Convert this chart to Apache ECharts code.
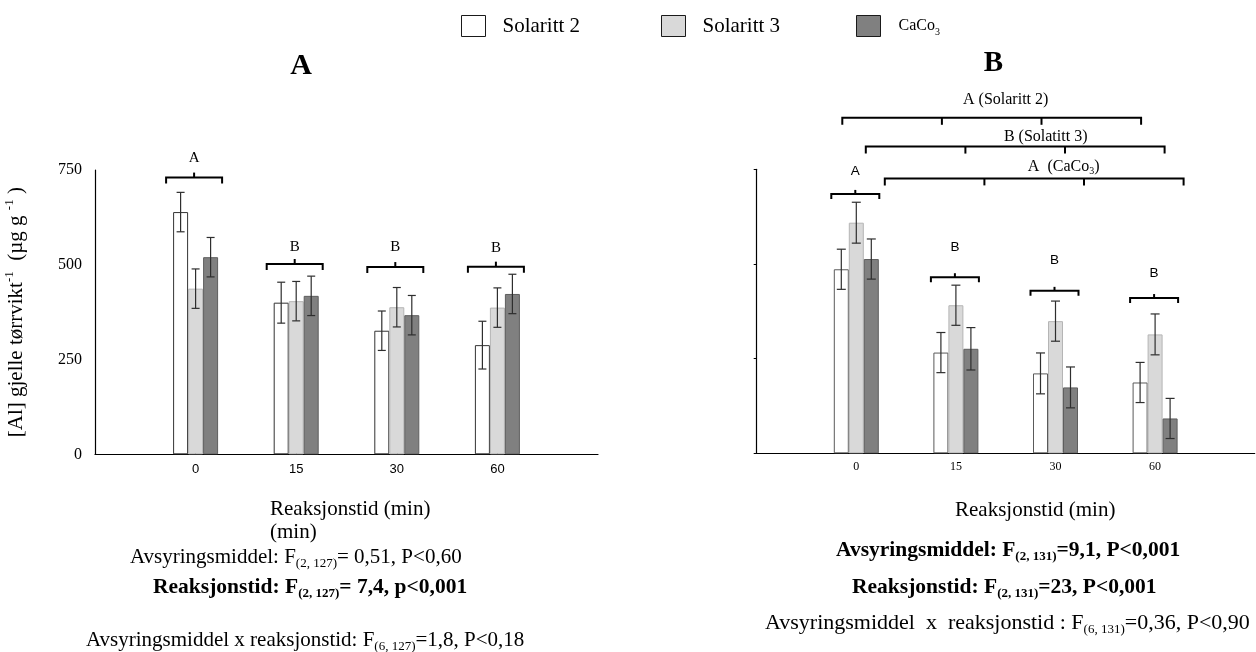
<!DOCTYPE html>
<html>
<head>
<meta charset="utf-8">
<script src="https://cdn.jsdelivr.net/npm/echarts@6/dist/echarts.min.js"></script>
<style>
  html, body { margin: 0; padding: 0; background: #ffffff; }
  #chart { width: 1256px; height: 652px; }
</style>
</head>
<body>
<div id="chart"></div>
<script>
// Reaction times (min) and treatments
const categories = ['0', '15', '30', '60'];
const seriesNames = ['Solaritt 2', 'Solaritt 3', 'CaCo3'];
const yTicks = [0, 250, 500, 750];

// Panel A: mean gill [Al] (µg/g dry weight) and error half-widths
const a_solaritt2 = [639, 400, 326, 288];
const a_solaritt3 = [437, 404, 388, 387];
const a_caco3     = [520, 418, 367, 423];
const a_err_solaritt2 = [52, 54, 52, 63];
const a_err_solaritt3 = [52, 52, 52, 52];
const a_err_caco3     = [52, 52, 52, 52];

// Panel B
const b_solaritt2 = [486, 266, 211, 187];
const b_solaritt3 = [609, 391, 349, 314];
const b_caco3     = [513, 276, 174, 92];
const b_err_solaritt2 = [53, 53, 54, 53];
const b_err_solaritt3 = [54, 53, 53, 54];
const b_err_caco3     = [53, 56, 54, 53];

// Homogeneous groups per reaction time (bracket level and letter level, in axis units)
const a_groupLetters  = ['A', 'B', 'B', 'B'];
const a_bracketLevels = [730, 502, 494, 495];
const a_letterLevels  = [782, 548, 546, 543];
const b_groupLetters  = ['A', 'B', 'B', 'B'];
const b_bracketLevels = [685, 465, 429, 410];
const b_letterLevels  = [745, 544, 509, 476];

// Homogeneous groups across reaction times, per treatment (panel B)
const b_spanLetters = ['A', 'B', 'A'];
const b_spanTreatments = ['Solaritt 2', 'Solatitt 3', 'CaCo3'];
const b_spanLevels = [886, 810, 726];

// ---------------------------------------------------------------
const SERIF = '"Liberation Serif", "Times New Roman", serif';
const SANS = '"Liberation Sans", Arial, sans-serif';
const axisCats = [''].concat(categories, [' ']);
const fills = ['#ffffff', '#d9d9d9', '#808080'];
const borders = [['#333333', '#b5b5b5', '#5e5e5e'], ['#5a5a5a', '#b5b5b5', '#5e5e5e']];
const BAR_W = 15;

const panels = [
  { values: [a_solaritt2, a_solaritt3, a_caco3], errors: [a_err_solaritt2, a_err_solaritt3, a_err_caco3], cap: 4 },
  { values: [b_solaritt2, b_solaritt3, b_caco3], errors: [b_err_solaritt2, b_err_solaritt3, b_err_caco3], cap: 4.5 }
];

function errorBarRenderer(offset, capHalf) {
  return function (params, api) {
    const c = api.value(0), v = api.value(1), e = api.value(2);
    const hi = api.coord([c, v + e]);
    const lo = api.coord([c, v - e]);
    const x = hi[0] + offset;
    const st = { stroke: '#2e2e2e', lineWidth: 1.2 };
    return {
      type: 'group',
      children: [
        { type: 'line', shape: { x1: x, y1: hi[1], x2: x, y2: lo[1] }, style: st },
        { type: 'line', shape: { x1: x - capHalf, y1: hi[1], x2: x + capHalf, y2: hi[1] }, style: st },
        { type: 'line', shape: { x1: x - capHalf, y1: lo[1], x2: x + capHalf, y2: lo[1] }, style: st }
      ]
    };
  };
}

function groupBracketRenderer(letters, o) {
  return function (params, api) {
    const c = api.value(0);
    const p = api.coord([c, api.value(1)]);
    const t = api.coord([c, api.value(2)]);
    const x = p[0] + o.dx, y = p[1];
    const st = { stroke: '#000', lineWidth: o.lw, fill: 'none' };
    return {
      type: 'group',
      children: [
        { type: 'polyline', shape: { points: [[x - o.half, y + o.drop], [x - o.half, y], [x + o.half, y], [x + o.half, y + o.drop]] }, style: st },
        { type: 'line', shape: { x1: x, y1: y, x2: x, y2: y - o.rise }, style: st },
        { type: 'text', style: { text: letters[params.dataIndex], x: x, y: t[1], align: 'center', verticalAlign: 'middle',
            fill: '#000', fontFamily: o.font, fontSize: o.size } }
      ]
    };
  };
}

// Span brackets: x shift of the tick positions and label placement
const spanShift = [-14, 9.5, 28.5];
const spanLabelDx = [0, 40, 58];
const spanLabelLift = [18, 10, 12];

function spanRenderer(params, api) {
  const i = params.dataIndex;
  const lv = api.value(1);
  const xs = [1, 2, 3, 4].map(c => api.coord([c, lv])[0] + spanShift[i]);
  const y = api.coord([1, lv])[1];
  const st = { stroke: '#000', lineWidth: 2, fill: 'none' };
  const children = [
    { type: 'polyline', shape: { points: [[xs[0], y + 7], [xs[0], y], [xs[3], y], [xs[3], y + 7]] }, style: st },
    { type: 'line', shape: { x1: xs[1], y1: y, x2: xs[1], y2: y + 7 }, style: st },
    { type: 'line', shape: { x1: xs[2], y1: y, x2: xs[2], y2: y + 7 }, style: st }
  ];
  const mid = (api.coord([2, lv])[0] + api.coord([3, lv])[0]) / 2 + spanLabelDx[i];
  const tr = b_spanTreatments[i];
  const txt = tr === 'CaCo3'
    ? '{m|' + b_spanLetters[i] + '  (CaCo}{s|3}{m|)}'
    : '{m|' + b_spanLetters[i] + ' (' + tr + ')}';
  children.push({
    type: 'text',
    style: {
      text: txt, x: mid, y: y - spanLabelLift[i], align: 'center', verticalAlign: 'middle',
      rich: {
        m: { fontFamily: SERIF, fontSize: 16, lineHeight: 20, fill: '#000' },
        s: { fontFamily: SERIF, fontSize: 10, lineHeight: 8, verticalAlign: 'bottom', fill: '#000' }
      }
    }
  });
  return { type: 'group', children };
}

const series = [];
panels.forEach((p, g) => {
  p.values.forEach((vals, k) => {
    series.push({
      name: seriesNames[k], type: 'bar', xAxisIndex: g, yAxisIndex: g,
      barWidth: BAR_W, barGap: '0%',
      itemStyle: { color: fills[k], borderColor: borders[g][k], borderWidth: 1 },
      emphasis: { disabled: true },
      data: vals.map((v, i) => [i + 1, v]),
      z: 2
    });
  });
  p.values.forEach((vals, k) => {
    series.push({
      name: seriesNames[k], type: 'custom', xAxisIndex: g, yAxisIndex: g,
      renderItem: errorBarRenderer((k - 1) * BAR_W, p.cap),
      data: vals.map((v, i) => [i + 1, v, p.errors[k][i]]),
      encode: { x: 0, y: 1 }, clip: false, z: 3, silent: true
    });
  });
});

series.push({
  type: 'custom', xAxisIndex: 0, yAxisIndex: 0, clip: false, z: 4, silent: true,
  renderItem: groupBracketRenderer(a_groupLetters, { dx: -1.5, half: 28, drop: 6, rise: 5, lw: 2, font: SERIF, size: 15 }),
  data: a_bracketLevels.map((lv, i) => [i + 1, lv, a_letterLevels[i]]),
  encode: { x: 0, y: 1 }
});
series.push({
  type: 'custom', xAxisIndex: 1, yAxisIndex: 1, clip: false, z: 4, silent: true,
  renderItem: groupBracketRenderer(b_groupLetters, { dx: -1, half: 24, drop: 5, rise: 4, lw: 2, font: SANS, size: 13.5 }),
  data: b_bracketLevels.map((lv, i) => [i + 1, lv, b_letterLevels[i]]),
  encode: { x: 0, y: 1 }
});
series.push({
  type: 'custom', xAxisIndex: 1, yAxisIndex: 1, clip: false, z: 4, silent: true,
  renderItem: spanRenderer,
  data: b_spanLevels.map(lv => [1, lv]),
  encode: { x: 0, y: 1 }
});

const yMin = yTicks[0], yMax = yTicks[yTicks.length - 1], yStep = yTicks[1] - yTicks[0];

function xAxis(g) {
  return {
    type: 'category', gridIndex: g, data: axisCats, boundaryGap: false,
    axisLine: { lineStyle: { color: '#000', width: 1.2 } },
    axisTick: g === 0
      ? { show: true, inside: true, length: 4, interval: (i, v) => v.trim() !== '', lineStyle: { color: '#000' } }
      : { show: false },
    axisLabel: g === 0
      ? { interval: 0, color: '#000', fontFamily: SANS, fontSize: 13, margin: 9 }
      : { interval: 0, color: '#000', fontFamily: SERIF, fontSize: 12, margin: 8 },
    splitLine: { show: false }
  };
}

function yAxis(g) {
  const base = {
    type: 'value', gridIndex: g, min: yMin, max: yMax, interval: yStep,
    axisLine: { show: true, lineStyle: { color: '#000', width: 1.2 } },
    splitLine: { show: false }
  };
  if (g === 0) {
    return Object.assign(base, {
      axisTick: { show: false },
      axisLabel: { color: '#000', fontFamily: SERIF, fontSize: 16, margin: 13 },
      name: '{m|[Al] gjelle tørrvikt}{s|-1}{m|  (µg g }{s|-1}{m| )}',
      nameLocation: 'middle', nameRotate: 90, nameGap: 66,
      nameTextStyle: {
        rich: {
          m: { fontFamily: SERIF, fontSize: 21, lineHeight: 26, color: '#000' },
          s: { fontFamily: SERIF, fontSize: 13, lineHeight: 10, verticalAlign: 'top', color: '#000' }
        }
      }
    });
  }
  return Object.assign(base, {
    axisTick: { show: true, length: 3, lineStyle: { color: '#000' } },
    axisLabel: { show: false }
  });
}

const legendLeft = [461, 661, 856];
const legend = seriesNames.map((n, i) => ({
  left: legendLeft[i], top: 15, orient: 'horizontal', padding: 0,
  itemWidth: 24, itemHeight: 21, icon: 'rect', selectedMode: false,
  data: [{ name: n, itemStyle: { color: fills[i], borderColor: '#1a1a1a', borderWidth: 1 } }],
  formatter: name => name === 'CaCo3' ? '{t|CaCo}{s|3}' : '{n|' + name + '}',
  textStyle: {
    padding: [0, 0, 0, i === 2 ? 13 : 12],
    rich: {
      n: { fontFamily: SERIF, fontSize: 21, color: '#000', lineHeight: 24 },
      t: { fontFamily: SERIF, fontSize: 16, color: '#000', lineHeight: 22 },
      s: { fontFamily: SERIF, fontSize: 10, color: '#000', lineHeight: 8, verticalAlign: 'bottom' }
    }
  }
}));

const richBase = {
  m: { fontFamily: SERIF, fontSize: 22, lineHeight: 26, fill: '#000' },
  lm: { fontFamily: SERIF, fontSize: 21, lineHeight: 26, fill: '#000' },
  s: { fontFamily: SERIF, fontSize: 13, lineHeight: 10, verticalAlign: 'bottom', fill: '#000' },
  b: { fontFamily: SERIF, fontSize: 21.5, fontWeight: 'bold', lineHeight: 26, fill: '#000' },
  bs: { fontFamily: SERIF, fontSize: 13, fontWeight: 'bold', lineHeight: 10, verticalAlign: 'bottom', fill: '#000' }
};

function textLine(x, y, text) {
  return { type: 'text', x: x, y: y, silent: true,
    style: { text: text, align: 'left', verticalAlign: 'middle', rich: richBase } };
}

const graphic = [
  { type: 'text', x: 301, y: 66, silent: true,
    style: { text: 'A', fontFamily: SERIF, fontSize: 30, fontWeight: 'bold', fill: '#000', align: 'center', verticalAlign: 'middle' } },
  { type: 'text', x: 993.5, y: 64, silent: true,
    style: { text: 'B', fontFamily: SERIF, fontSize: 29, fontWeight: 'bold', fill: '#000', align: 'center', verticalAlign: 'middle' } },

  textLine(270, 509, '{lm|Reaksjonstid (min)}'),
  textLine(270, 532, '{lm|(min)}'),
  textLine(130, 557, '{lm|Avsyringsmiddel: F}{s|(2, 127)}{lm|= 0,51, P<0,60}'),
  textLine(153, 587, '{b|Reaksjonstid: F}{bs|(2, 127)}{b|= 7,4, p<0,001}'),
  textLine(86, 640, '{lm|Avsyringsmiddel x reaksjonstid: F}{s|(6, 127)}{lm|=1,8, P<0,18}'),

  textLine(955, 510, '{lm|Reaksjonstid (min)}'),
  textLine(836, 550, '{b|Avsyringsmiddel: F}{bs|(2, 131)}{b|=9,1, P<0,001}'),
  textLine(852, 587, '{b|Reaksjonstid: F}{bs|(2, 131)}{b|=23, P<0,001}'),
  textLine(765, 623, '{m|Avsyringsmiddel  x  reaksjonstid : F}{s|(6, 131)}{m|=0,36, P<0,90}')
];

const chart = echarts.init(document.getElementById('chart'), null, { renderer: 'canvas' });
chart.setOption({
  animation: false,
  backgroundColor: '#ffffff',
  legend: legend,
  grid: [
    { left: 95, top: 170, width: 503, height: 284.3, containLabel: false, outerBoundsMode: 'none' },
    { left: 756.7, top: 169.3, width: 498, height: 284, containLabel: false, outerBoundsMode: 'none' }
  ],
  xAxis: [xAxis(0), xAxis(1)],
  yAxis: [yAxis(0), yAxis(1)],
  series: series,
  graphic: graphic
});
</script>
</body>
</html>
